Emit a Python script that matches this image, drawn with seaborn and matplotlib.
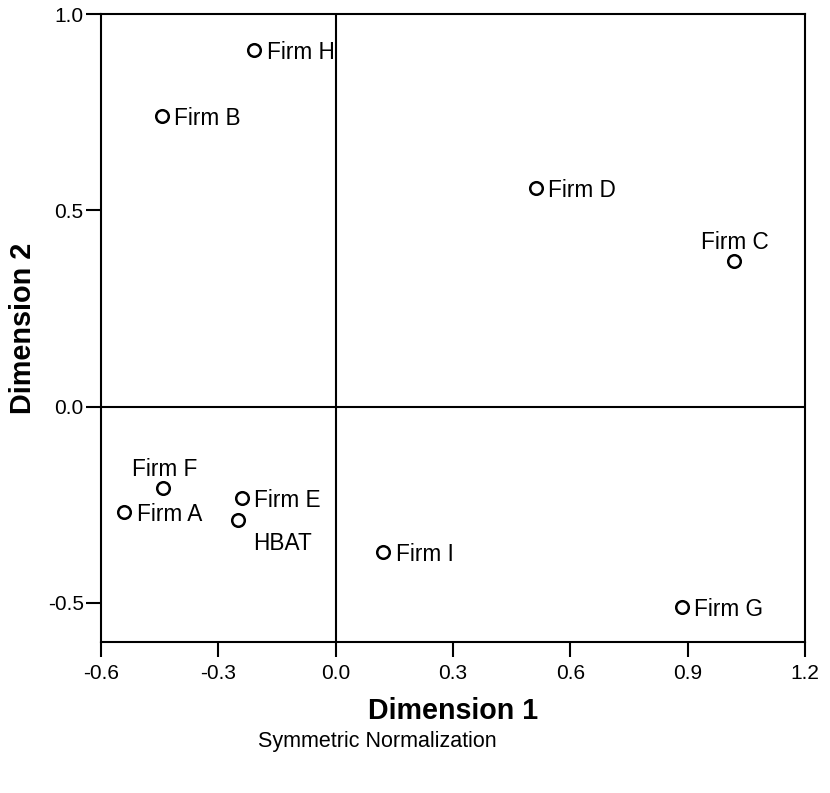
import matplotlib
matplotlib.use("Agg")
import matplotlib.pyplot as plt
import seaborn as sns
import pandas as pd

labels = ["Firm H", "Firm B", "Firm D", "Firm C", "Firm F", "Firm A",
          "Firm E", "HBAT", "Firm I", "Firm G"]
dim1 = [-0.208, -0.445, 0.511, 1.018, -0.441, -0.541, -0.240, -0.249, 0.122, 0.885]
dim2 = [0.908, 0.740, 0.556, 0.371, -0.208, -0.268, -0.234, -0.289, -0.370, -0.512]
# label placement: r = right, a = above, br = below-right
placement = ["r", "r", "r", "a", "a", "r", "r", "br", "r", "r"]

x_ticks = [-0.6, -0.3, 0.0, 0.3, 0.6, 0.9, 1.2]
y_ticks = [-0.5, 0.0, 0.5, 1.0]

df = pd.DataFrame({"Dimension 1": dim1, "Dimension 2": dim2, "label": labels})

sns.set_style("white")
plt.rcParams["font.family"] = ["Liberation Sans", "DejaVu Sans"]
plt.rcParams["text.color"] = "black"
plt.rcParams["axes.labelcolor"] = "black"
plt.rcParams["xtick.color"] = "black"
plt.rcParams["ytick.color"] = "black"

fig = plt.figure(figsize=(8.3, 7.93), dpi=100)
ax = fig.add_axes([101/830, 1 - 642/793, 704/830, 628/793])

ax.axvline(0, color="black", lw=1.5, zorder=1)
ax.axhline(0, color="black", lw=1.5, zorder=1)

sns.scatterplot(data=df, x="Dimension 1", y="Dimension 2", ax=ax,
                marker="o", s=82, color="white", edgecolor="black",
                linewidth=1.8, zorder=3, legend=False)

fs = 16.3
for lab, x, y, p in zip(labels, dim1, dim2, placement):
    if p == "r":
        ax.annotate(lab, (x, y), xytext=(9, 0), textcoords="offset points",
                    ha="left", va="center_baseline", fontsize=fs, color="black")
    elif p == "a":
        ax.annotate(lab, (x, y), xytext=(1, 8.5), textcoords="offset points",
                    ha="center", va="baseline", fontsize=fs, color="black")
    else:
        ax.annotate(lab, (x, y), xytext=(10.5, -21.5), textcoords="offset points",
                    ha="left", va="baseline", fontsize=fs, color="black")

ax.set_xlim(-0.6, 1.2)
ax.set_ylim(-0.6, 1.0)
ax.set_xticks(x_ticks)
ax.set_xticklabels([f"{v:.1f}" for v in x_ticks])
ax.set_yticks(y_ticks)
ax.set_yticklabels([f"{v:.1f}" for v in y_ticks])

for s in ax.spines.values():
    s.set_color("black")
    s.set_linewidth(1.5)

ax.tick_params(axis="both", which="major", direction="out", length=10.5,
               width=1.5, color="black", labelsize=15, labelcolor="black",
               bottom=True, left=True)
ax.tick_params(axis="x", pad=5)
ax.tick_params(axis="y", pad=2)

ax.set_xlabel("Dimension 1", fontsize=20.6, fontweight="bold", color="black")
ax.set_ylabel("Dimension 2", fontsize=20.8, fontweight="bold", color="black")
ax.xaxis.set_label_coords(0.5, -0.088)
ax.yaxis.set_label_coords(-0.091, 0.5)

fig.text(377/830, 1 - 741/793, "Symmetric Normalization", ha="center",
         va="center", fontsize=15.5, color="black")

fig.savefig("out.png", dpi=100)
